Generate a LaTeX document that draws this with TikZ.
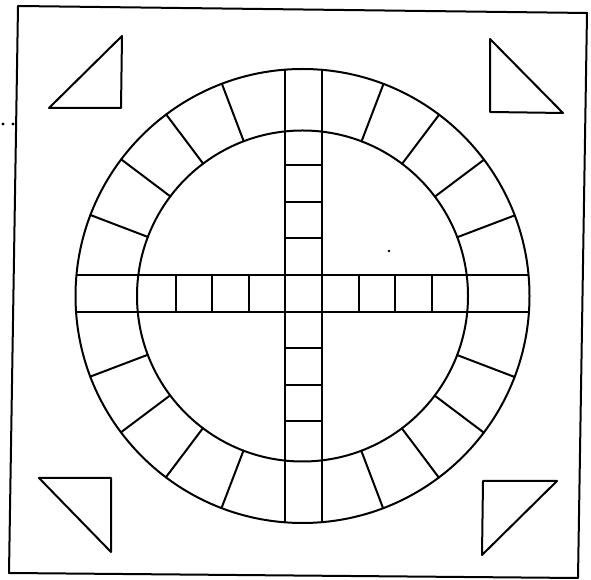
\documentclass[tikz,border=0pt]{standalone}
\usetikzlibrary{calc}
\begin{document}
\begin{tikzpicture}[x=1pt,y=1pt,
  board/.style={line width=2pt,line join=round,line cap=round},
  speck/.style={fill=black}]
\useasboundingbox (0,0) rectangle (591,580);
% outer frame (scanned, slightly skewed)
\draw[board] (18,574) -- (587,567) -- (578,2) -- (9,7) -- cycle;
% centres
\coordinate (Cc) at (302.5,284);
\coordinate (Cb) at (303.5,286.5);
% circles
\draw[board] (Cc) circle[radius=227];
\draw[board] (Cc) circle[radius=165.5];
% cross bands, clipped to the outer circle
\begin{scope}
  \clip (Cc) circle[radius=227];
  \draw[board] ($(Cb)+(-300,18.5)$) -- ($(Cb)+(300,18.5)$);
  \draw[board] ($(Cb)+(-300,-18.5)$) -- ($(Cb)+(300,-18.5)$);
  \draw[board] ($(Cb)+(-18.5,-300)$) -- ($(Cb)+(-18.5,300)$);
  \draw[board] ($(Cb)+(18.5,-300)$) -- ($(Cb)+(18.5,300)$);
\end{scope}
% cells inside the arms
\foreach \k in {1,2,3}{
  \pgfmathsetmacro{\d}{18.5+36.5*\k}
  \draw[board] ($(Cb)+(-\d,-18.5)$) -- ($(Cb)+(-\d,18.5)$);
  \draw[board] ($(Cb)+(\d,-18.5)$) -- ($(Cb)+(\d,18.5)$);
  \draw[board] ($(Cb)+(-18.5,\d)$) -- ($(Cb)+(18.5,\d)$);
  \draw[board] ($(Cb)+(-18.5,-\d)$) -- ($(Cb)+(18.5,-\d)$);
}
% radial dividers of the ring
\foreach \q in {0,90,180,270}{
  \foreach \a in {20.8,36.9,53.0,69.1}{
    \draw[board] ($(Cc)+(\q+\a:165.5)$) -- ($(Cc)+(\q+\a:227)$);
  }
}
% corner triangles
\draw[board] (49,472) -- (122,544) -- (121,472) -- cycle;
\draw[board] (490,541) -- (490,468) -- (563,467) -- cycle;
\draw[board] (39,102) -- (111,102) -- (111,28) -- cycle;
\draw[board] (483,99) -- (557,99) -- (482,25) -- cycle;
% scan specks
\fill[speck] (3,456) circle[radius=1.6];
\fill[speck] (13,456) circle[radius=1.6];
\fill[speck] (389,329) circle[radius=1.3];
\end{tikzpicture}
\end{document}
